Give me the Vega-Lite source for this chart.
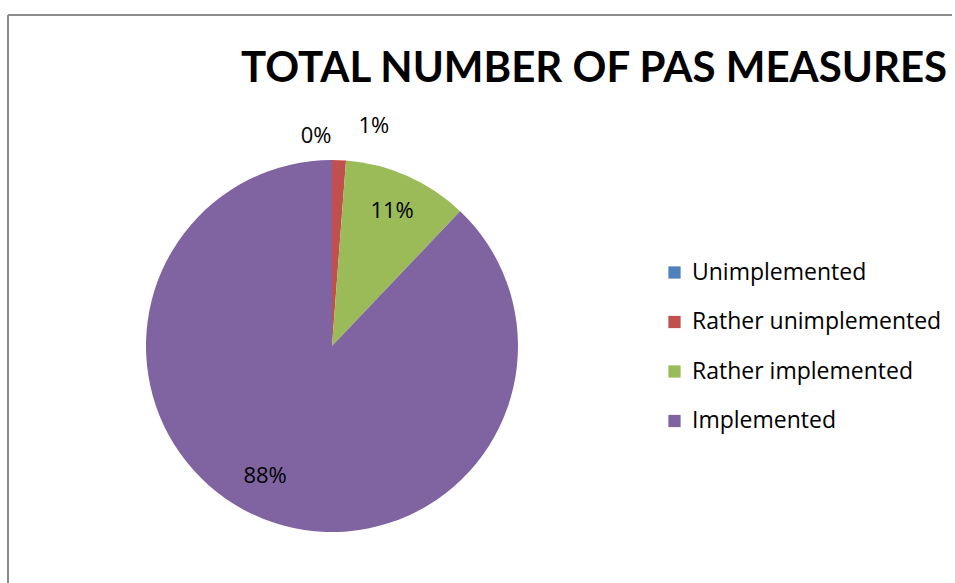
{
  "$schema": "https://vega.github.io/schema/vega-lite/v6.json",
  "width": 947,
  "height": 568,
  "autosize": {"type": "none"},
  "padding": {"left": 8, "top": 15, "right": 0, "bottom": 0},
  "background": "white",
  "config": {
    "view": {"stroke": null},
    "font": "Open Sans"
  },
  "title": {
    "text": "TOTAL NUMBER OF PAS MEASURES",
    "anchor": "start",
    "frame": "group",
    "orient": "top",
    "font": "Lato",
    "fontSize": 42,
    "fontWeight": "bold",
    "color": "#000000",
    "dx": 233,
    "dy": 77,
    "offset": 0
  },
  "data": {
    "values": [
      {"status": "Unimplemented", "share": 0.0, "label": "0%", "rank": 1},
      {"status": "Rather unimplemented", "share": 1.2, "label": "1%", "rank": 2},
      {"status": "Rather implemented", "share": 10.9, "label": "11%", "rank": 3},
      {"status": "Implemented", "share": 87.9, "label": "88%", "rank": 4}
    ]
  },
  "layer": [
    {
      "data": {"values": [{"frame": "top edge"}]},
      "mark": {"type": "rule", "stroke": "#8c8c8c", "strokeWidth": 2, "strokeCap": "butt"},
      "encoding": {"x": {"value": 0}, "x2": {"value": 944}, "y": {"value": 0}, "y2": {"value": 0}}
    },
    {
      "data": {"values": [{"frame": "left edge"}]},
      "mark": {"type": "rule", "stroke": "#8c8c8c", "strokeWidth": 2},
      "encoding": {"x": {"value": 0}, "x2": {"value": 0}, "y": {"value": 0}, "y2": {"value": 568}}
    },
    {
      "mark": {"type": "arc", "outerRadius": 186, "x": 324, "y": 331},
      "encoding": {
        "theta": {"field": "share", "type": "quantitative", "stack": true},
        "order": {"field": "rank", "type": "quantitative"},
        "color": {
          "field": "status",
          "type": "nominal",
          "scale": {
            "domain": ["Unimplemented", "Rather unimplemented", "Rather implemented", "Implemented"],
            "range": ["#4F81BD", "#C0504D", "#9BBB59", "#8064A2"]
          },
          "legend": {
            "title": null,
            "orient": "none",
            "legendX": 655,
            "legendY": 246,
            "symbolType": "square",
            "symbolSize": 150,
            "symbolStrokeWidth": 0,
            "labelFont": "Open Sans",
            "labelFontSize": 23,
            "labelColor": "#000000",
            "labelOffset": 6,
            "rowPadding": 25.5,
            "labelLimit": 400
          }
        }
      }
    },
    {
      "mark": {"type": "text", "radius": 148, "x": 324, "y": 331, "font": "Open Sans", "fontSize": 22, "color": "#000000"},
      "encoding": {
        "theta": {"field": "share", "type": "quantitative", "stack": true},
        "order": {"field": "rank", "type": "quantitative"},
        "text": {"condition": {"test": "datum.share >= 5 && datum.share < 50", "field": "label"}, "value": ""}
      }
    },
    {
      "mark": {"type": "text", "radius": 148, "x": 324, "y": 331, "dx": -12, "dy": -7, "font": "Open Sans", "fontSize": 22, "color": "#000000"},
      "encoding": {
        "theta": {"field": "share", "type": "quantitative", "stack": true},
        "order": {"field": "rank", "type": "quantitative"},
        "text": {"condition": {"test": "datum.share >= 50", "field": "label"}, "value": ""}
      }
    },
    {
      "mark": {"type": "text", "radius": 210, "x": 324, "y": 331, "dx": -16, "font": "Open Sans", "fontSize": 22, "color": "#000000"},
      "encoding": {
        "theta": {"field": "share", "type": "quantitative", "stack": true},
        "order": {"field": "rank", "type": "quantitative"},
        "text": {"condition": {"test": "datum.share == 0", "field": "label"}, "value": ""}
      }
    },
    {
      "mark": {"type": "text", "radius": 210, "x": 324, "y": 331, "dx": 34, "dy": -10, "font": "Open Sans", "fontSize": 22, "color": "#000000"},
      "encoding": {
        "theta": {"field": "share", "type": "quantitative", "stack": true},
        "order": {"field": "rank", "type": "quantitative"},
        "text": {"condition": {"test": "datum.share > 0 && datum.share < 5", "field": "label"}, "value": ""}
      }
    }
  ]
}
